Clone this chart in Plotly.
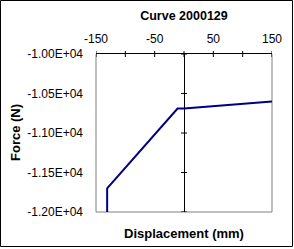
import plotly.graph_objects as go

# Data
displacement = [-131, -131, -11, 0, 150]
force = [-12000, -11700, -10690, -10690, -10600]

x_tick_vals = [-150, -100, -50, 0, 50, 100, 150]
x_tick_text = ["-150", "", "-50", "", "50", "", "150"]
y_tick_vals = [-10000, -10500, -11000, -11500, -12000]
y_tick_text = ["-1.00E+04", "-1.05E+04", "-1.10E+04", "-1.15E+04", "-1.20E+04"]

title_text = "Curve 2000129"
x_title = "Displacement (mm)"
y_title = "Force (N)"

W, H = 294, 249
L, R, T, B = 96, 22, 54, 37
PW, PH = W - L - R, H - T - B
TICK = 3  # half length of crossing tick marks, px

FONT = "Liberation Sans, Arial, sans-serif"

fig = go.Figure()
fig.add_trace(go.Scatter(
    x=displacement, y=force, mode="lines",
    line=dict(color="#000080", width=2),
    showlegend=False, hoverinfo="skip",
))

fig.update_layout(
    width=W, height=H,
    margin=dict(l=L, r=R, t=T, b=B, pad=0),
    paper_bgcolor="white", plot_bgcolor="white",
    font=dict(family=FONT, size=12, color="black"),
    title=dict(text=title_text, x=(L + PW / 2) / W, xanchor="center",
               y=1 - 16 / H, yanchor="middle", yref="container",
               font=dict(family=FONT, size=12.5, weight="bold", color="black")),
    xaxis=dict(range=[-150, 150], side="top",
               tickvals=x_tick_vals, ticktext=x_tick_text,
               ticks="", ticklabelstandoff=5,
               showline=True, linecolor="black", linewidth=1,
               showgrid=False, zeroline=True, zerolinecolor="black", zerolinewidth=1,
               tickfont=dict(family=FONT, size=12), fixedrange=True),
    yaxis=dict(range=[-12000, -10000], side="left",
               tickvals=y_tick_vals, ticktext=y_tick_text,
               ticks="", showline=False, ticklabelstandoff=12,
               showgrid=False, zeroline=False,
               tickfont=dict(family=FONT, size=12), fixedrange=True),
)

# plot-area border (gray left, bottom, right)
fig.add_shape(type="path", xref="paper", yref="paper",
              path="M 0 1 L 0 0 L 1 0 L 1 1",
              line=dict(color="#808080", width=1), layer="below")

# crossing tick marks on the top x axis
for v in x_tick_vals:
    fig.add_shape(type="line", xref="x", yref="paper",
                  x0=v, x1=v, y0=1 - TICK / PH, y1=1 + TICK / PH,
                  line=dict(color="black", width=1), layer="above")

# crossing tick marks on the vertical axis at x = 0
for v in y_tick_vals:
    fig.add_shape(type="line", xref="paper", yref="y",
                  y0=v, y1=v, x0=0.5 - TICK / PW, x1=0.5 + TICK / PW,
                  line=dict(color="black", width=1), layer="above")

# outer chart border
fig.add_shape(type="rect", xref="paper", yref="paper",
              x0=(0.5 - L) / PW, x1=(292.5 - L) / PW,
              y0=(T + PH - 246.5) / PH, y1=(T + PH - 0.5) / PH,
              line=dict(color="black", width=1), fillcolor="rgba(0,0,0,0)")

fig.add_annotation(text=x_title, xref="paper", yref="paper",
                   x=0.5, y=(T + PH - 233) / PH, xanchor="center", yanchor="middle",
                   showarrow=False,
                   font=dict(family=FONT, size=13, weight="bold", color="black"))
fig.add_annotation(text=y_title, xref="paper", yref="paper",
                   x=(15 - L) / PW, y=0.5, xanchor="center", yanchor="middle",
                   textangle=-90, showarrow=False,
                   font=dict(family=FONT, size=13, weight="bold", color="black"))

fig.write_html("out.html", config=dict(displayModeBar=False))
